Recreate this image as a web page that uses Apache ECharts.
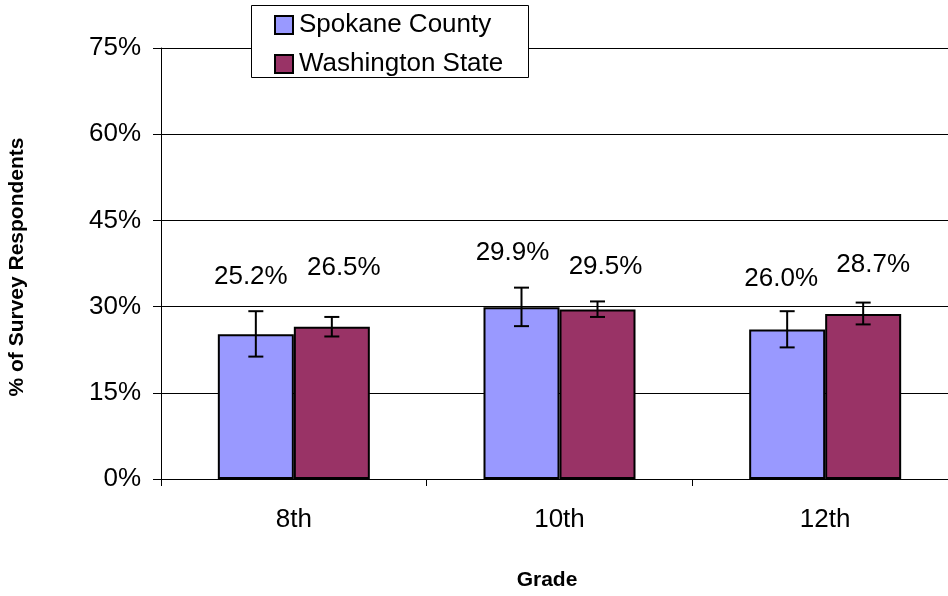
<!DOCTYPE html>
<html>
<head>
<meta charset="utf-8">
<script src="https://cdn.jsdelivr.net/npm/echarts@6/dist/echarts.min.js"></script>
<style>
html,body{margin:0;padding:0;background:#fff;}
#chart{width:948px;height:596px;}
</style>
</head>
<body>
<div id="chart"></div>
<script>
// ---- data ----
const categories = ['8th', '10th', '12th'];
const seriesNames = ['Spokane County', 'Washington State'];
const spokane = [25.2, 29.9, 26.0];
const washington = [26.5, 29.5, 28.7];
const spokaneLow = [21.3, 26.6, 22.9];
const spokaneHigh = [29.2, 33.3, 29.2];
const washingtonLow = [24.8, 28.2, 26.9];
const washingtonHigh = [28.2, 30.9, 30.7];
const yTicks = [0, 15, 30, 45, 60, 75];

// ---- style ----
const FONT = 'Liberation Sans, Arial, sans-serif';
const BAR_W = 76;
const spokaneLabelNudge = [[-5, -57], [-9, -54], [-6, -51]];
const washingtonLabelNudge = [[12, -59], [8, -43], [10, -49]];

const chart = echarts.init(document.getElementById('chart'));

function barData(vals, nudges) {
  return vals.map((v, i) => ({
    value: v,
    label: { offset: nudges[i] }
  }));
}

function errData(low, high) {
  return low.map((l, i) => [i, l, high[i]]);
}

function errRender(shift) {
  return function (params, api) {
    const idx = api.value(0);
    const top = api.coord([idx, api.value(2)]);
    const bot = api.coord([idx, api.value(1)]);
    const x = top[0] + shift;
    const cap = 7.5;
    const style = { stroke: '#000', lineWidth: 2 };
    return {
      type: 'group',
      children: [
        { type: 'line', shape: { x1: x, y1: top[1], x2: x, y2: bot[1] }, style },
        { type: 'line', shape: { x1: x - cap, y1: top[1], x2: x + cap, y2: top[1] }, style },
        { type: 'line', shape: { x1: x - cap, y1: bot[1], x2: x + cap, y2: bot[1] }, style }
      ]
    };
  };
}

const labelCfg = {
  show: true,
  position: ['50%', 0],
  align: 'center',
  verticalAlign: 'middle',
  formatter: p => p.value.toFixed(1) + '%',
  fontFamily: FONT,
  fontSize: 26,
  color: '#000'
};

const option = {
  animation: false,
  backgroundColor: '#fff',
  grid: { left: 161, top: 48, width: 797, bottom: 117, outerBoundsMode: 'none', containLabel: false },
  legend: {
    data: seriesNames,
    orient: 'vertical',
    left: 274,
    top: 12,
    padding: 0,
    itemWidth: 18,
    itemHeight: 18,
    itemGap: 13,
    z: 10,
    icon: 'rect',
    itemStyle: { borderColor: '#000', borderWidth: 2 },
    textStyle: { fontFamily: FONT, fontSize: 26, color: '#000', lineHeight: 26, padding: [0, 0, 0, 1] }
  },
  xAxis: {
    type: 'category',
    data: categories,
    axisLine: { lineStyle: { color: '#000', width: 1 } },
    axisTick: { show: true, length: 7, lineStyle: { color: '#000' } },
    axisLabel: { fontFamily: FONT, fontSize: 26, color: '#000', margin: 28 },
    splitLine: { show: false }
  },
  yAxis: {
    type: 'value',
    min: yTicks[0],
    max: yTicks[yTicks.length - 1],
    interval: yTicks[1] - yTicks[0],
    axisLine: { show: true, lineStyle: { color: '#000', width: 1 } },
    axisTick: { show: true, length: 8, lineStyle: { color: '#000' } },
    axisLabel: { fontFamily: FONT, fontSize: 26, color: '#000', margin: 20, formatter: '{value}%' },
    splitLine: { show: true, lineStyle: { color: '#000', width: 1 } }
  },
  graphic: [
    { type: 'rect', z: 5, shape: { x: 251.5, y: 5.5, width: 277, height: 72 },
      style: { fill: '#fff', stroke: '#000', lineWidth: 1 } },
    { type: 'text', z: 5, x: 17, y: 267, rotation: Math.PI / 2,
      style: { text: '% of Survey Respondents', fontFamily: FONT, fontWeight: 'bold', fontSize: 21,
               fill: '#000', align: 'center', verticalAlign: 'middle' } },
    { type: 'text', z: 5, x: 547, y: 580,
      style: { text: 'Grade', fontFamily: FONT, fontWeight: 'bold', fontSize: 21,
               fill: '#000', align: 'center', verticalAlign: 'middle' } }
  ],
  series: [
    {
      name: seriesNames[0], type: 'bar', barWidth: BAR_W, barGap: '0%',
      data: barData(spokane, spokaneLabelNudge),
      itemStyle: { color: '#9999FF', borderColor: '#000', borderWidth: 2 },
      label: labelCfg
    },
    {
      name: seriesNames[1], type: 'bar', barWidth: BAR_W, barGap: '0%',
      data: barData(washington, washingtonLabelNudge),
      itemStyle: { color: '#993366', borderColor: '#000', borderWidth: 2 },
      label: labelCfg
    },
    {
      type: 'custom', z: 6, renderItem: errRender(-BAR_W / 2),
      data: errData(spokaneLow, spokaneHigh),
      encode: { x: 0, y: [1, 2] }
    },
    {
      type: 'custom', z: 6, renderItem: errRender(BAR_W / 2),
      data: errData(washingtonLow, washingtonHigh),
      encode: { x: 0, y: [1, 2] }
    }
  ]
};
chart.setOption(option);
</script>
</body>
</html>
